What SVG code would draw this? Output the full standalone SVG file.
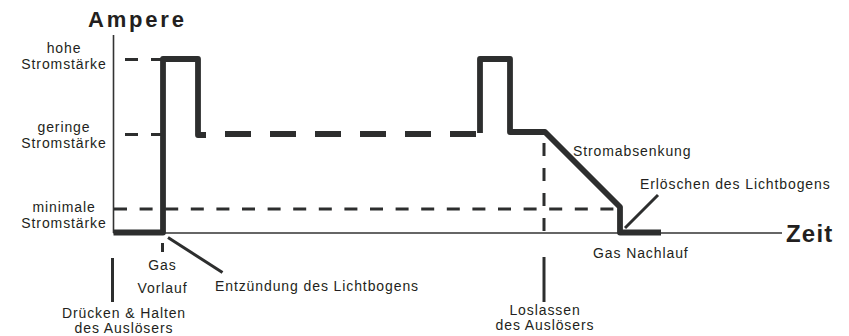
<svg xmlns="http://www.w3.org/2000/svg" width="849" height="336" viewBox="0 0 849 336">
<style>
  .lbl { font-family: "Liberation Sans", Arial, sans-serif; font-size: 14px; letter-spacing: 0.9px; fill: #231f20; }
  .ttl { font-family: "Liberation Sans", Arial, sans-serif; font-weight: bold; fill: #231f20; }
  .axis { stroke: #333; stroke-width: 1.6; fill: none; }
  .wave { stroke: #2d2e2e; stroke-width: 5.8; fill: none; stroke-linejoin: round; }
  .guide { stroke: #2d2e2e; stroke-width: 3; fill: none; }
  .lead { stroke: #2d2e2e; stroke-width: 3; fill: none; }
</style>
<rect width="849" height="336" fill="#fff"/>
<g id="axes">
  <line class="axis" x1="113.5" y1="35" x2="113.5" y2="233"/>
  <line class="axis" x1="113.5" y1="233" x2="782" y2="233"/>
  <text class="ttl" x="88" y="27" font-size="22" letter-spacing="2.8">Ampere</text>
  <text class="ttl" x="786" y="242" font-size="24" letter-spacing="1.2">Zeit</text>
</g>
<g id="levels">
  <line class="guide" x1="125" y1="59.5" x2="161" y2="59.5" stroke-dasharray="13 13"/>
  <line class="guide" x1="125" y1="134.5" x2="161" y2="134.5" stroke-dasharray="13 13"/>
  <line class="guide" x1="114" y1="209" x2="617" y2="209" stroke-dasharray="13 12.6"/>
  <text class="lbl" x="64" y="53" text-anchor="middle">hohe</text>
  <text class="lbl" x="64" y="69" text-anchor="middle">Stromstärke</text>
  <text class="lbl" x="64" y="131.5" text-anchor="middle">geringe</text>
  <text class="lbl" x="64" y="148" text-anchor="middle">Stromstärke</text>
  <text class="lbl" x="64" y="211.5" text-anchor="middle">minimale</text>
  <text class="lbl" x="64" y="228" text-anchor="middle">Stromstärke</text>
</g>
<g id="current">
  <path class="wave" d="M113.5,232.5 H163 V59 H198 V135 H206"/>
  <line class="wave" x1="225" y1="134" x2="476" y2="134" stroke-dasharray="26 19" stroke-linejoin="miter"/>
  <path class="wave" d="M480,133 V59 H510 V132 H545 L620,207 V232.5 H661"/>
</g>
<g id="connectors">
  <line class="guide" x1="544" y1="143" x2="544" y2="233" stroke-dasharray="13 12"/>
  <line class="lead" x1="544" y1="257" x2="544" y2="302"/>
  <line class="lead" x1="112.5" y1="258" x2="112.5" y2="302"/>
  <line class="lead" x1="162.5" y1="243" x2="162.5" y2="252"/>
  <line class="lead" x1="168" y1="237.5" x2="222.5" y2="272.5"/>
  <line class="lead" x1="625" y1="228" x2="658" y2="195"/>
</g>
<g id="labels">
  <text class="lbl" x="162.5" y="270" text-anchor="middle">Gas</text>
  <text class="lbl" x="162.5" y="293" text-anchor="middle">Vorlauf</text>
  <text class="lbl" x="215" y="291">Entzündung des Lichtbogens</text>
  <text class="lbl" x="124" y="318" text-anchor="middle">Drücken &amp; Halten</text>
  <text class="lbl" x="124" y="333" text-anchor="middle">des Auslösers</text>
  <text class="lbl" x="573" y="156">Stromabsenkung</text>
  <text class="lbl" x="640" y="189">Erlöschen des Lichtbogens</text>
  <text class="lbl" x="593" y="258">Gas Nachlauf</text>
  <text class="lbl" x="545" y="315" text-anchor="middle">Loslassen</text>
  <text class="lbl" x="545" y="330" text-anchor="middle">des Auslösers</text>
</g>
</svg>
